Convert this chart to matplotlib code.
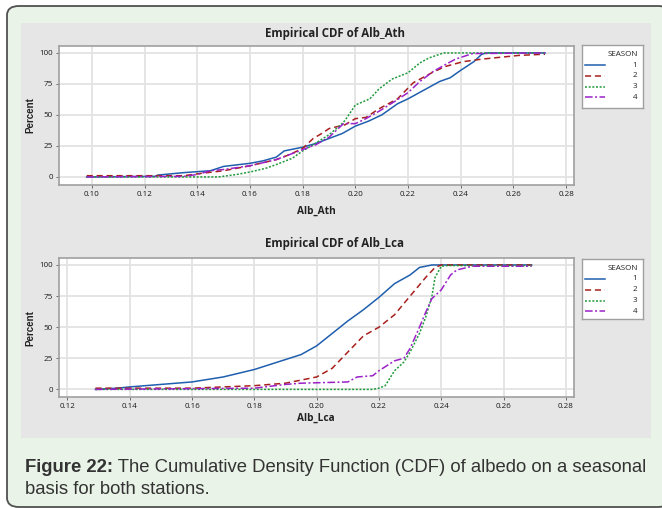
import matplotlib
matplotlib.use("Agg")
import matplotlib.pyplot as plt
from matplotlib.patches import FancyBboxPatch, Rectangle
from matplotlib.lines import Line2D

W, H = 662, 508

# ---------------- data ----------------
seasons = ["1", "2", "3", "4"]

# Alb_Ath
ath_x1 = [0.098, 0.124, 0.125, 0.13, 0.135, 0.145, 0.15, 0.16, 0.165, 0.17, 0.173, 0.18, 0.185, 0.19, 0.195, 0.20, 0.205, 0.21, 0.216, 0.22, 0.226, 0.232, 0.236, 0.24, 0.245, 0.248, 0.25, 0.272]
ath_y1 = [0.0, 0.5, 1.5, 2.5, 3.5, 5.0, 8.5, 11.0, 13.0, 16.0, 21.0, 24.0, 27.0, 31.0, 35.0, 41.0, 45.0, 50.0, 59.0, 63.0, 70.0, 77.0, 80.0, 86.0, 93.0, 99.0, 100.0, 100.0]

ath_x2 = [0.098, 0.135, 0.14, 0.15, 0.155, 0.16, 0.17, 0.175, 0.18, 0.184, 0.188, 0.19, 0.196, 0.20, 0.204, 0.209, 0.216, 0.222, 0.229, 0.234, 0.241, 0.248, 0.262, 0.272]
ath_y2 = [1.0, 1.0, 2.5, 5.0, 7.0, 9.0, 14.0, 18.0, 23.0, 31.0, 36.0, 39.0, 42.0, 47.0, 48.0, 55.0, 63.0, 76.0, 84.0, 89.0, 93.0, 95.0, 98.0, 99.0]

ath_x3 = [0.098, 0.148, 0.155, 0.16, 0.166, 0.17, 0.176, 0.18, 0.184, 0.19, 0.1955, 0.1975, 0.20, 0.2055, 0.209, 0.214, 0.22, 0.2245, 0.228, 0.2335, 0.272]
ath_y3 = [0.0, 0.0, 2.0, 4.0, 7.0, 10.0, 15.0, 21.0, 26.0, 34.0, 44.0, 50.0, 58.0, 63.0, 71.0, 79.0, 84.0, 92.0, 96.0, 100.0, 100.0]

ath_x4 = [0.098, 0.135, 0.14, 0.145, 0.15, 0.16, 0.17, 0.18, 0.185, 0.19, 0.1955, 0.20, 0.204, 0.209, 0.215, 0.22, 0.2245, 0.2295, 0.2345, 0.238, 0.2445, 0.272]
ath_y4 = [0.0, 0.5, 2.0, 5.0, 6.0, 9.0, 14.0, 22.0, 26.0, 32.0, 43.0, 43.0, 47.0, 53.0, 61.0, 68.0, 77.0, 85.0, 91.0, 95.0, 99.5, 100.0]

# Alb_Lca
lca_x1 = [0.129, 0.136, 0.14, 0.15, 0.16, 0.17, 0.18, 0.19, 0.195, 0.20, 0.205, 0.21, 0.215, 0.22, 0.225, 0.23, 0.233, 0.237, 0.269]
lca_y1 = [0.0, 1.0, 2.0, 4.0, 6.0, 10.0, 16.0, 24.0, 28.0, 35.0, 45.0, 55.0, 64.0, 74.0, 85.0, 92.0, 98.0, 100.0, 100.0]

lca_x2 = [0.129, 0.16, 0.17, 0.18, 0.19, 0.20, 0.205, 0.21, 0.215, 0.22, 0.225, 0.23, 0.235, 0.238, 0.24, 0.269]
lca_y2 = [1.0, 1.0, 2.0, 3.0, 5.0, 10.0, 17.0, 30.0, 43.0, 50.0, 60.0, 75.0, 90.0, 98.0, 100.0, 100.0]

lca_x3 = [0.129, 0.218, 0.22, 0.222, 0.225, 0.228, 0.23, 0.233, 0.235, 0.237, 0.238, 0.24, 0.242, 0.269]
lca_y3 = [0.0, 0.0, 1.0, 3.0, 15.0, 22.0, 30.0, 45.0, 58.0, 75.0, 90.0, 99.0, 99.5, 99.5]

lca_x4 = [0.129, 0.18, 0.19, 0.195, 0.21, 0.213, 0.218, 0.22, 0.225, 0.228, 0.23, 0.233, 0.235, 0.237, 0.24, 0.243, 0.245, 0.25, 0.269]
lca_y4 = [0.0, 1.0, 4.0, 5.0, 6.0, 10.0, 11.0, 15.0, 23.0, 25.0, 33.0, 50.0, 62.0, 73.0, 80.0, 92.0, 96.0, 99.0, 99.0]

ath_xticks = [0.10, 0.12, 0.14, 0.16, 0.18, 0.20, 0.22, 0.24, 0.26, 0.28]
lca_xticks = [0.12, 0.14, 0.16, 0.18, 0.20, 0.22, 0.24, 0.26, 0.28]
yticks = [0, 25, 50, 75, 100]

titles = ["Empirical CDF of Alb_Ath", "Empirical CDF of Alb_Lca"]
xlabels = ["Alb_Ath", "Alb_Lca"]
caption_bold = "Figure 22:"
caption_rest = " The Cumulative Density Function (CDF) of albedo on a seasonal"
caption_line2 = "basis for both stations."

# ---------------- styling ----------------
colors = ["#1f5fae", "#a8201e", "#1f9a3a", "#9b22c8"]
dashes = [None, (4.0, 2.5), (1.3, 1.1), (5.0, 1.6, 1.3, 1.6)]
narrow = ["Liberation Sans Narrow", "Open Sans", "DejaVu Sans"]
sans = ["Liberation Sans", "DejaVu Sans"]

fig = plt.figure(figsize=(W / 100, H / 100), dpi=100)
fig.patch.set_facecolor("white")

def fx(px):
    return px / W

def fy(py):
    return 1 - py / H

# outer rounded box
outer = FancyBboxPatch((fx(7), fy(507)), fx(670) - fx(7), fy(6) - fy(507),
                       boxstyle="round,pad=0,rounding_size=0.018",
                       transform=fig.transFigure, facecolor="#e9f3e7",
                       edgecolor="#505050", linewidth=1.3, zorder=0)
fig.patches.append(outer)
# gray panel
panel = Rectangle((fx(21), fy(438)), fx(651) - fx(21), fy(23) - fy(438),
                  transform=fig.transFigure, facecolor="#e6e6e6",
                  edgecolor="none", zorder=0.5)
fig.patches.append(panel)

def make_axes(top, bottom, xlim, ylim, xticks, series, title, xlabel, title_y, xlabel_y, ylabel_y, leg_top, leg_bottom):
    ax = fig.add_axes([fx(59), fy(bottom), fx(574) - fx(59), fy(top) - fy(bottom)], zorder=3)
    ax.set_facecolor("white")
    for s in ax.spines.values():
        s.set_color("#a0a0a0")
        s.set_linewidth(1.2)
    ax.set_xlim(*xlim)
    ax.set_ylim(*ylim)
    ax.set_xticks(xticks)
    ax.set_xticklabels([f"{t:.2f}" for t in xticks])
    ax.set_yticks(yticks)
    ax.set_yticklabels([str(t) for t in yticks])
    ax.grid(True, color="#e3e3e3", linewidth=1.3)
    ax.set_axisbelow(True)
    ax.tick_params(axis="both", length=2.5, width=0.6, color="#555555",
                   labelsize=5.8, pad=2)
    for lab in ax.get_xticklabels() + ax.get_yticklabels():
        lab.set_family(narrow)
        lab.set_color("#1a1a1a")
    for (xs, ys), c, d in zip(series, colors, dashes):
        ln, = ax.plot(xs, ys, color=c, linewidth=1.1, solid_joinstyle="miter")
        if d is not None:
            ln.set_dashes(d)
    fig.text(fx(335), fy(title_y), title, ha="center", va="center",
             fontsize=8.3, fontweight="bold", family=narrow, color="#222222", zorder=4)
    fig.text(fx(316), fy(xlabel_y), xlabel, ha="center", va="center",
             fontsize=7.3, fontweight="bold", family=narrow, color="#222222", zorder=4)
    fig.text(fx(30), fy(ylabel_y), "Percent", ha="center", va="center",
             rotation=90, fontsize=7, fontweight="bold", family=sans, color="#222222", zorder=4)
    # legend box
    lg = fig.add_axes([fx(582), fy(leg_bottom), fx(643) - fx(582), fy(leg_top) - fy(leg_bottom)], zorder=3)
    lg.set_xlim(582, 643)
    lg.set_ylim(leg_bottom, leg_top)
    lg.set_xticks([])
    lg.set_yticks([])
    lg.set_facecolor("white")
    for s in lg.spines.values():
        s.set_color("#a0a0a0")
        s.set_linewidth(1.0)
    lg.text(638, leg_top + 9, "SEASON", ha="right", va="center", fontsize=5.8, family=narrow, color="#222222")
    for i, (c, d, lab) in enumerate(zip(colors, dashes, seasons)):
        yy = leg_top + 20 + i * 10.8
        l = Line2D([585, 605], [yy, yy], color=c, linewidth=1.1)
        if d is not None:
            l.set_dashes(d)
        lg.add_line(l)
        lg.text(637, yy, lab, ha="right", va="center", fontsize=5.8, family=narrow, color="#222222")
    return ax

make_axes(46, 185, (0.0875, 0.2830), (-6.5, 105.6), ath_xticks,
          [(ath_x1, ath_y1), (ath_x2, ath_y2), (ath_x3, ath_y3), (ath_x4, ath_y4)],
          titles[0], xlabels[0], 33, 211, 115, 45, 108)
make_axes(258, 397, (0.1173, 0.2826), (-6.1, 105.6), lca_xticks,
          [(lca_x1, lca_y1), (lca_x2, lca_y2), (lca_x3, lca_y3), (lca_x4, lca_y4)],
          titles[1], xlabels[1], 244, 418, 328, 259, 319)

# caption
t1 = fig.text(fx(25), fy(467), caption_bold, ha="left", va="center",
              fontsize=13.3, fontweight="bold", family=sans, color="#333333", zorder=4)
fig.canvas.draw()
bb = t1.get_window_extent()
fig.text(bb.x1 / W, fy(467), caption_rest, ha="left", va="center",
         fontsize=13.3, family=sans, color="#333333", zorder=4)
fig.text(fx(25), fy(490), caption_line2, ha="left", va="center",
         fontsize=13.3, family=sans, color="#333333", zorder=4)

fig.savefig("out.png", dpi=100)
